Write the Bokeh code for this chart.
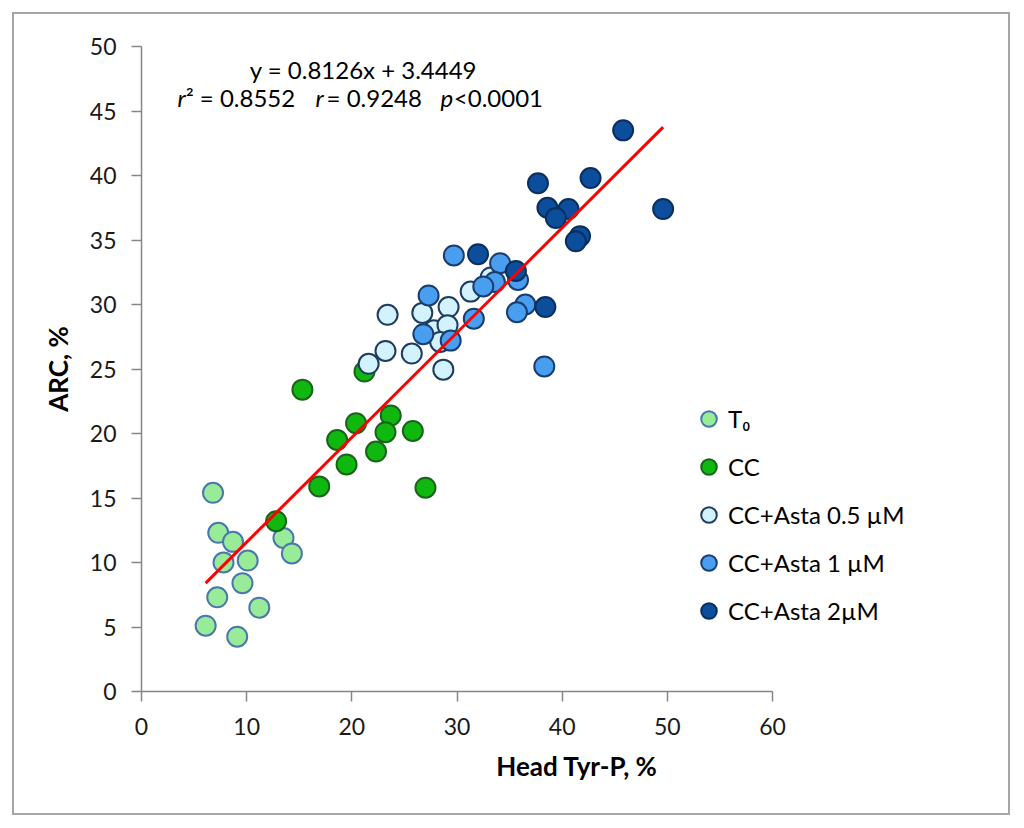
from bokeh.plotting import figure
from bokeh.models import Legend, LegendItem, Label, SingleIntervalTicker
from bokeh.embed import file_html
from bokeh.resources import INLINE

# ---- data ----
t0_x = [6.8, 7.3, 8.7, 7.8, 10.1, 9.6, 7.2, 11.2, 6.1, 9.1, 13.5, 14.3]
t0_y = [15.4, 12.3, 11.6, 10.0, 10.15, 8.4, 7.3, 6.5, 5.1, 4.25, 11.9, 10.7]

cc_x = [12.8, 16.9, 15.3, 21.2, 23.7, 20.4, 23.2, 25.8, 18.6, 22.3, 19.5, 27.0]
cc_y = [13.2, 15.9, 23.4, 24.8, 21.4, 20.8, 20.1, 20.2, 19.5, 18.6, 17.6, 15.8]

a05_x = [33.2, 31.3, 29.2, 26.7, 23.4, 27.8, 29.1, 28.4, 23.2, 25.7, 21.6, 28.7]
a05_y = [32.1, 31.0, 29.8, 29.35, 29.2, 28.0, 28.4, 27.1, 26.4, 26.2, 25.4, 24.95]

a1_x = [29.7, 34.1, 35.8, 33.6, 32.5, 27.3, 36.5, 35.7, 31.6, 26.8, 29.4, 38.3]
a1_y = [33.8, 33.2, 31.9, 31.75, 31.4, 30.7, 30.0, 29.4, 28.9, 27.7, 27.2, 25.2]

a2_x = [45.8, 37.7, 42.7, 49.6, 38.6, 40.6, 39.4, 41.7, 41.3, 32.0, 35.6, 38.4]
a2_y = [43.5, 39.4, 39.8, 37.4, 37.5, 37.4, 36.7, 35.3, 34.9, 33.9, 32.6, 29.8]

series_names = ["T\u2080", "CC", "CC+Asta 0.5 \u00b5M", "CC+Asta 1 \u00b5M", "CC+Asta 2\u00b5M"]

slope = 0.8126
intercept = 3.4449
r2 = 0.8552
r = 0.9248
p_text = "<0.0001"

x_axis_max = 60
y_axis_max = 50
x_ticks_interval = 10
y_ticks_interval = 5

# ---- layout / styles ----
FONT = "Lato"
fills = ["#98ec98", "#0fb80f", "#d2f3fd", "#4a9ef0", "#0c4d9c"]
lines = ["#4a78ad", "#1b631b", "#1d3c5e", "#1a3d6e", "#0a2f5e"]

W, H = 998, 803          # outer size of the bordered chart
BL, BT, BB = 127, 32, 126
AXIS_W = 631             # pixel length of the 0..60 x axis
frame_w = W - BL
x_view_max = x_axis_max * frame_w / AXIS_W   # frame extends right so the legend is not clipped

p = figure(width=W, height=H, x_range=(0, x_view_max), y_range=(0, y_axis_max),
           output_backend="svg", toolbar_location=None,
           min_border_left=BL, min_border_right=0,
           min_border_top=BT, min_border_bottom=BB)
p.styles = {"border": "2px solid #a6a6a6", "margin": "12px 0 0 12px",
            "box-sizing": "border-box"}
p.outline_line_color = None
p.xgrid.visible = False
p.ygrid.visible = False
p.background_fill_color = "white"
p.border_fill_color = "white"

for ax in (p.xaxis[0], p.yaxis[0]):
    ax.axis_line_color = "#868686"
    ax.axis_line_width = 1.5
    ax.major_tick_line_color = "#868686"
    ax.major_tick_line_width = 1.5
    ax.major_tick_out = 10
    ax.major_tick_in = 0
    ax.minor_tick_line_color = None
    ax.major_label_text_font = FONT
    ax.major_label_text_font_size = "23px"
    ax.major_label_text_color = "#1a1a1a"
    ax.axis_label_text_font = FONT
    ax.axis_label_text_font_size = "26px"
    ax.axis_label_text_font_style = "bold"
    ax.axis_label_text_color = "#000000"

p.xaxis.bounds = (0, x_axis_max)
p.xaxis.ticker = SingleIntervalTicker(interval=x_ticks_interval)
p.yaxis.ticker = SingleIntervalTicker(interval=y_ticks_interval)
p.xaxis.axis_label = "Head Tyr-P, %"
p.yaxis.axis_label = "ARC, %"
p.xaxis.major_label_standoff = 16
p.yaxis.major_label_standoff = 15
p.xaxis.axis_label_standoff = 12
p.yaxis.axis_label_standoff = 13

xs = [t0_x, cc_x, a05_x, a1_x, a2_x]
ys = [t0_y, cc_y, a05_y, a1_y, a2_y]
items = []
for i in range(5):
    rnd = p.scatter(xs[i], ys[i], size=20, marker="circle",
                    fill_color=fills[i], line_color=lines[i], line_width=2)
    items.append(LegendItem(label=series_names[i], renderers=[rnd]))

# trend line over the data range
all_x = t0_x + cc_x + a05_x + a1_x + a2_x
lx = [min(all_x), max(all_x)]
ly = [slope * v + intercept for v in lx]
p.line(lx, ly, line_color="#ff0000", line_width=3)

legend = Legend(items=items, location=(548, 61), orientation="vertical",
                glyph_width=39, glyph_height=39, spacing=9,
                label_standoff=0, padding=0, margin=0,
                label_text_font=FONT, label_text_font_size="24px",
                label_text_color="#000000",
                background_fill_alpha=0, border_line_color=None)
p.add_layout(legend, "center")

# equation / statistics text
def lab(x, y, text, style="normal"):
    p.add_layout(Label(x=x, y=y, text=text, text_font=FONT,
                       text_font_size="24px", text_font_style=style,
                       text_color="#000000", text_baseline="alphabetic",
                       text_align="left"))

y1, y2 = 48.25, 46.05
lab(10.3, y1, f"y = {slope}x + {intercept}")
lab(3.42, y2, "r", "italic")
lab(4.2, y2, f"\u00b2 = {r2}")
lab(16.54, y2, "r", "italic")
lab(17.6, y2, f"= {r}")
lab(28.43, y2, "p", "italic")
lab(29.7, y2, p_text)

open("out.html", "w").write(file_html(p, INLINE))
